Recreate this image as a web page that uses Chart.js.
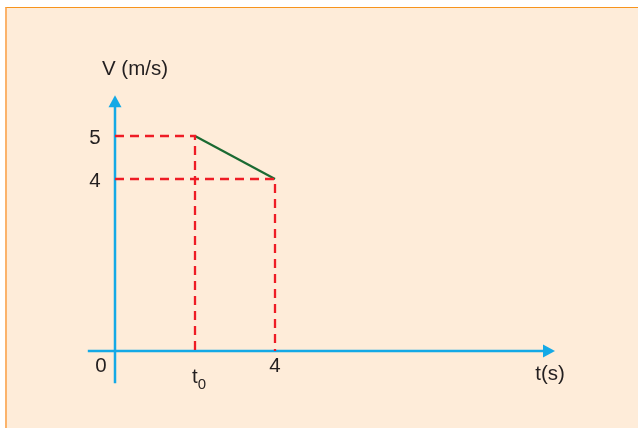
<!DOCTYPE html>
<html>
<head>
<meta charset="utf-8">
<script src="https://cdn.jsdelivr.net/npm/chart.js@4.4.1/dist/chart.umd.min.js"></script>
<style>
  html, body { margin: 0; padding: 0; background: #fff; }
  .panel {
    position: absolute;
    left: 5px;
    top: 7px;
    width: 631px;
    height: 421px;
    background: #feecd9;
    border-top: 1px solid #f7941d;
    border-left: 2px solid #fbb36b;
  }
  .chart-box { position: absolute; left: 0; top: 0; width: 638px; height: 428px; }
</style>
</head>
<body>
<div class="panel"></div>
<div class="chart-box"><canvas id="chart"></canvas></div>
<script>
// time marks on the t axis and their labels
const timeTicks = [0, 2, 4];
const timeLabels = ["0", "t0", "4"];
// velocity marks on the V axis
const velocityTicks = [5, 4];
// the velocity segment (t, V)
const segmentT = [2, 4];
const segmentV = [5, 4];
// extent of the drawn axes in data units
const tAxisRange = [-0.68, 11];
const vAxisRange = [-0.75, 5.95];

const FONT = "Liberation Sans, Arial, sans-serif";
const TEXT = "#231f20";
const AXIS = "#14a9e6";

const segment = segmentT.map((t, i) => ({ x: t, y: segmentV[i] }));

// dashed guides from each segment end to both axes
const guides = segment.map((p) => ({
  data: [{ x: 0, y: p.y }, { x: p.x, y: p.y }, { x: p.x, y: 0 }],
  borderColor: "#ee1c25",
  borderWidth: 2.3,
  borderDash: [9, 6],
  pointRadius: 0,
  showLine: true,
  fill: false,
}));

const axesPlugin = {
  id: "axes",
  beforeDatasetsDraw(chart) {
    const { ctx, scales } = chart;
    const px = (v) => scales.x.getPixelForValue(v);
    const py = (v) => scales.y.getPixelForValue(v);
    const x0 = Math.round(px(0));
    const y0 = Math.round(py(0));
    const xEnd = px(tAxisRange[1]);
    const yEnd = py(vAxisRange[1]);

    ctx.save();
    ctx.strokeStyle = AXIS;
    ctx.fillStyle = AXIS;
    ctx.lineWidth = 2.5;
    ctx.beginPath();
    ctx.moveTo(px(tAxisRange[0]), y0);
    ctx.lineTo(xEnd - 10, y0);
    ctx.moveTo(x0, py(vAxisRange[0]));
    ctx.lineTo(x0, yEnd + 10);
    ctx.stroke();

    // arrow heads
    ctx.beginPath();
    ctx.moveTo(xEnd, y0);
    ctx.lineTo(xEnd - 12, y0 - 6.5);
    ctx.lineTo(xEnd - 12, y0 + 6.5);
    ctx.closePath();
    ctx.fill();
    ctx.beginPath();
    ctx.moveTo(x0, yEnd);
    ctx.lineTo(x0 - 6.5, yEnd + 12);
    ctx.lineTo(x0 + 6.5, yEnd + 12);
    ctx.closePath();
    ctx.fill();
    ctx.restore();
  },
  afterDatasetsDraw(chart) {
    const { ctx, scales } = chart;
    const px = (v) => scales.x.getPixelForValue(v);
    const py = (v) => scales.y.getPixelForValue(v);
    const x0 = px(0);
    const y0 = py(0);

    ctx.save();
    ctx.fillStyle = TEXT;
    ctx.font = "20.5px " + FONT;
    ctx.textAlign = "center";
    ctx.textBaseline = "middle";

    velocityTicks.forEach((v) => {
      ctx.fillText(String(v), x0 - 20, py(v) + 2);
    });

    timeTicks.forEach((t, i) => {
      const label = timeLabels[i];
      if (t === 0) {
        ctx.fillText(label, x0 - 14, y0 + 15);
      } else if (label.length > 1) {
        // letter with subscript
        ctx.textAlign = "left";
        ctx.textBaseline = "alphabetic";
        ctx.fillText(label[0], px(t) - 3, y0 + 32);
        const w = ctx.measureText(label[0]).width;
        ctx.font = "15px " + FONT;
        ctx.fillText(label.slice(1), px(t) - 3 + w, y0 + 38);
        ctx.font = "20.5px " + FONT;
        ctx.textAlign = "center";
        ctx.textBaseline = "middle";
      } else {
        ctx.fillText(label, px(t), y0 + 15);
      }
    });

    ctx.fillText("V (m/s)", x0 + 20, py(vAxisRange[1]) - 26);
    ctx.fillText("t(s)", px(tAxisRange[1]) - 5, y0 + 23);
    ctx.restore();
  },
};

new Chart(document.getElementById("chart"), {
  type: "scatter",
  data: {
    datasets: [
      ...guides,
      {
        data: segment,
        borderColor: "#1b6a32",
        borderWidth: 2.2,
        pointRadius: 0,
        showLine: true,
        fill: false,
      },
    ],
  },
  options: {
    responsive: true,
    maintainAspectRatio: false,
    animation: false,
    layout: { padding: 0 },
    plugins: {
      legend: { display: false },
      tooltip: { enabled: false },
    },
    scales: {
      x: {
        type: "linear",
        min: -2.875,
        max: 13.075,
        display: false,
      },
      y: {
        type: "linear",
        min: -1.79,
        max: 8.163,
        display: false,
      },
    },
  },
  plugins: [axesPlugin],
});
</script>
</body>
</html>
